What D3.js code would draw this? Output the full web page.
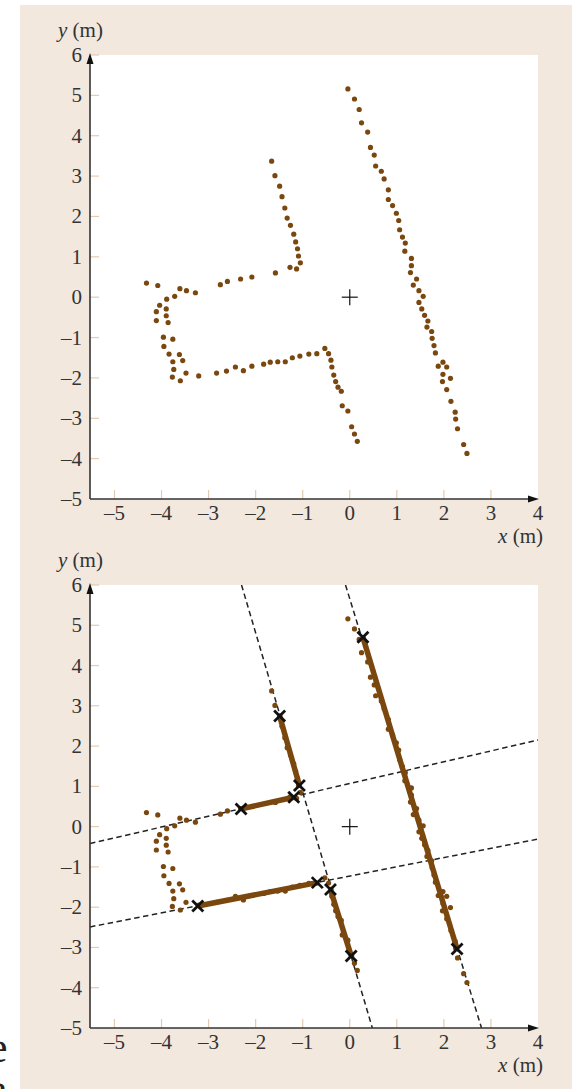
<!DOCTYPE html>
<html><head><meta charset="utf-8">
<script src="https://cdn.jsdelivr.net/npm/d3@7/dist/d3.min.js"></script>
<style>body{margin:0;background:#fff}svg{display:block}svg text{font-family:"Liberation Serif","Times New Roman",Times,"DejaVu Serif",serif}</style>
</head><body>
<svg id="c" width="572" height="1089"></svg>
<script>
// ---------- data ----------
const xTicks = [-5,-4,-3,-2,-1,0,1,2,3,4];
const yTicks = [-5,-4,-3,-2,-1,0,1,2,3,4,5,6];
const xDomain = [-5.52, 4];
const yDomain = [-5, 6];

const rightWall = [[-0.04,5.16],[0.10,4.91],[0.20,4.65],[0.25,4.32],[0.38,4.09],[0.44,3.71],[0.52,3.52],[0.55,3.25],[0.67,3.12],[0.73,2.93],[0.82,2.66],[0.82,2.42],[0.91,2.27],[0.99,2.08],[1.04,1.90],[1.06,1.67],[1.12,1.49],[1.18,1.34],[1.17,1.14],[1.31,0.96],[1.31,0.78],[1.29,0.61],[1.42,0.45],[1.35,0.30],[1.47,0.16],[1.56,0.02],[1.47,-0.13],[1.53,-0.29],[1.59,-0.45],[1.66,-0.59],[1.64,-0.74],[1.74,-0.85],[1.75,-1.02],[1.79,-1.20],[1.82,-1.38],[1.88,-1.71],[1.98,-1.61],[2.06,-1.73],[1.98,-1.91],[2.14,-2.01],[1.97,-2.09],[2.06,-2.29],[2.15,-2.58],[2.24,-2.85],[2.25,-3.02],[2.29,-3.26],[2.42,-3.65],[2.49,-3.87]];
const leftUpperWall = [[-1.66,3.37],[-1.59,3.01],[-1.49,2.75],[-1.44,2.49],[-1.38,2.21],[-1.33,1.96],[-1.26,1.78],[-1.19,1.56],[-1.15,1.37],[-1.11,1.20],[-1.09,1.02],[-1.05,0.85],[-1.13,0.70],[-1.27,0.74]];
const upperCorridorWall = [[-1.58,0.60],[-2.08,0.50],[-2.32,0.45],[-2.60,0.39],[-2.75,0.31],[-3.28,0.11],[-3.47,0.16],[-3.61,0.21],[-4.08,0.29],[-4.32,0.35]];
const leftCluster = [[-3.72,0.02],[-3.89,-0.05],[-4.04,-0.20],[-4.11,-0.36],[-3.90,-0.29],[-3.90,-0.46],[-4.11,-0.58],[-3.86,-0.63],[-3.96,-0.99],[-3.76,-1.04],[-3.95,-1.22],[-3.84,-1.41],[-3.62,-1.42],[-3.76,-1.60],[-3.55,-1.57],[-3.74,-1.79],[-3.48,-1.88],[-3.77,-1.98],[-3.60,-2.07]];
const lowerCorridorWall = [[-3.21,-1.95],[-2.83,-1.88],[-2.62,-1.83],[-2.43,-1.73],[-2.26,-1.82],[-2.08,-1.71],[-1.83,-1.66],[-1.69,-1.61],[-1.53,-1.60],[-1.37,-1.60],[-1.22,-1.50],[-1.06,-1.46],[-0.87,-1.41],[-0.70,-1.40],[-0.53,-1.27]];
const lowerRightWall = [[-0.45,-1.40],[-0.40,-1.56],[-0.38,-1.73],[-0.34,-1.93],[-0.30,-2.09],[-0.25,-2.23],[-0.18,-2.33],[-0.16,-2.69],[-0.04,-2.82],[0.04,-3.21],[0.10,-3.39],[0.16,-3.57]];

// fitted infinite lines (two points each)
const fittedLines = [
  [[-2.30,6.0],[0.48,-5.0]],
  [[-0.09,6.0],[2.80,-5.0]],
  [[-5.52,-0.42],[4.0,2.15]],
  [[-5.52,-2.49],[4.0,-0.31]]
];
// extracted segments [x1,y1,x2,y2]
const segments = [
  [-1.49,2.75,-1.07,1.02],
  [-2.31,0.44,-1.19,0.73],
  [-3.23,-1.97,-0.69,-1.39],
  [-0.41,-1.56,0.03,-3.21],
  [0.28,4.70,2.28,-3.04]
];

// ---------- drawing ----------
const svg = d3.select('#c');
const BEIGE = '#f2e8de', BROWN = '#7a470f', TICK = '#e2cbb0', AX = '#333';
const FS = 21;

svg.append('rect').attr('x',20).attr('y',5).attr('width',552).attr('height',1084).attr('fill',BEIGE);
svg.append('text').attr('x',-12).attr('y',1062).attr('font-size',44).attr('fill','#222').text('e');
svg.append('text').attr('x',-12).attr('y',1104).attr('font-size',44).attr('fill','#222').text('a');

const allPoints = [].concat(rightWall,leftUpperWall,upperCorridorWall,leftCluster,lowerCorridorWall,lowerRightWall);

function panel(top, bottom, withFit, id){
  const L=90, R=538;
  const x = d3.scaleLinear().domain(xDomain).range([L,R]);
  const y = d3.scaleLinear().domain(yDomain).range([bottom,top]);
  const g = svg.append('g');
  g.append('rect').attr('x',L).attr('y',top).attr('width',R-L).attr('height',bottom-top).attr('fill','#fff');
  g.append('clipPath').attr('id',id).append('rect').attr('x',L).attr('y',top).attr('width',R-L).attr('height',bottom-top);

  g.selectAll('.xt').data(xTicks.filter(d=>d<4)).join('line')
    .attr('x1',d=>x(d)).attr('x2',d=>x(d)).attr('y1',bottom).attr('y2',bottom-9)
    .attr('stroke',TICK).attr('stroke-width',1.2);
  g.selectAll('.yt').data(yTicks.filter(d=>d>-5)).join('line')
    .attr('x1',L).attr('x2',L+9).attr('y1',d=>y(d)).attr('y2',d=>y(d))
    .attr('stroke',TICK).attr('stroke-width',1.2);

  const fmt = d => d<0 ? '\u2013'+Math.abs(d) : String(d);
  g.selectAll('.xl').data(xTicks).join('text')
    .attr('x',d=>x(d)).attr('y',bottom+21).attr('text-anchor','middle')
    .attr('font-size',FS).attr('fill',AX).text(fmt);
  g.selectAll('.yl').data(yTicks).join('text')
    .attr('x',82).attr('y',d=>y(d)+7).attr('text-anchor','end')
    .attr('font-size',FS).attr('fill',AX).text(fmt);

  const yt = g.append('text').attr('x',58).attr('y',top-18).attr('font-size',FS).attr('fill',AX);
  yt.append('tspan').attr('font-style','italic').text('y');
  yt.append('tspan').text(' (m)');
  const xt = g.append('text').attr('x',543).attr('y',bottom+44).attr('text-anchor','end').attr('font-size',FS).attr('fill',AX);
  xt.append('tspan').attr('font-style','italic').text('x');
  xt.append('tspan').text(' (m)');

  const body = g.append('g').attr('clip-path',`url(#${id})`);
  if(withFit){
    body.selectAll('.fl').data(fittedLines).join('line')
      .attr('x1',d=>x(d[0][0])).attr('y1',d=>y(d[0][1])).attr('x2',d=>x(d[1][0])).attr('y2',d=>y(d[1][1]))
      .attr('stroke','#222').attr('stroke-width',1.5).attr('stroke-dasharray','5.5,3.5');
  }
  body.selectAll('.pt').data(allPoints).join('circle')
    .attr('cx',d=>x(d[0])).attr('cy',d=>y(d[1])).attr('r',2.6).attr('fill',BROWN);
  if(withFit){
    body.selectAll('.sg').data(segments).join('line')
      .attr('x1',d=>x(d[0])).attr('y1',d=>y(d[1])).attr('x2',d=>x(d[2])).attr('y2',d=>y(d[3]))
      .attr('stroke',BROWN).attr('stroke-width',5.5).attr('stroke-linecap','butt');
    const ends = segments.flatMap(s=>[[s[0],s[1]],[s[2],s[3]]]);
    const s=5.5;
    const xm = body.selectAll('.xm').data(ends).join('g').attr('transform',d=>`translate(${x(d[0])},${y(d[1])})`);
    xm.append('line').attr('x1',-s).attr('y1',-s).attr('x2',s).attr('y2',s).attr('stroke','#111').attr('stroke-width',2.8);
    xm.append('line').attr('x1',-s).attr('y1',s).attr('x2',s).attr('y2',-s).attr('stroke','#111').attr('stroke-width',2.8);
  }
  const ox=x(0), oy=y(0);
  body.append('line').attr('x1',ox-8).attr('x2',ox+8).attr('y1',oy).attr('y2',oy).attr('stroke','#111').attr('stroke-width',1.2);
  body.append('line').attr('x1',ox).attr('x2',ox).attr('y1',oy-8).attr('y2',oy+8).attr('stroke','#111').attr('stroke-width',1.2);

  g.append('line').attr('x1',L).attr('x2',L).attr('y1',bottom).attr('y2',top+6).attr('stroke',AX).attr('stroke-width',1.6);
  g.append('line').attr('x1',L).attr('x2',R-6).attr('y1',bottom).attr('y2',bottom).attr('stroke',AX).attr('stroke-width',1.6);
  g.append('path').attr('d',`M${L},${top-2} L${L-3.5},${top+9} L${L+3.5},${top+9} Z`).attr('fill','#111');
  g.append('path').attr('d',`M${R+1},${bottom} L${R-10},${bottom-3.5} L${R-10},${bottom+3.5} Z`).attr('fill','#111');
}
panel(55, 499, false, 'clipA');
panel(585, 1028, true, 'clipB');
</script>
</body></html>
